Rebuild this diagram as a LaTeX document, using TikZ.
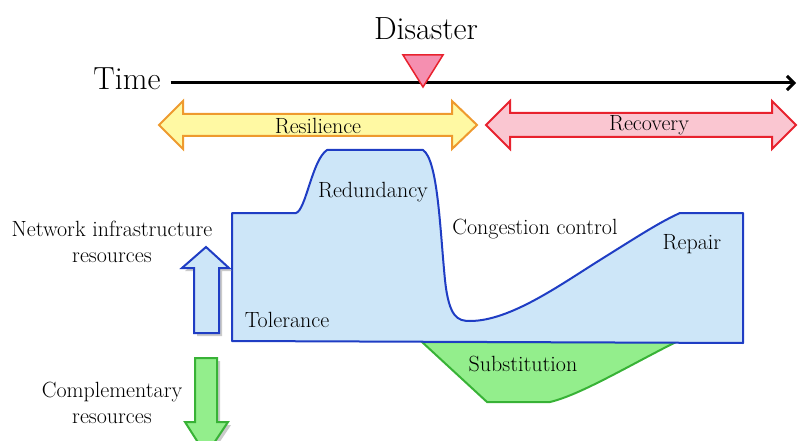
\documentclass[tikz,border=0pt]{standalone}
\usetikzlibrary{arrows.meta}
\definecolor{resfill}{HTML}{FFF9A3}
\definecolor{resline}{HTML}{EE9A2E}
\definecolor{recfill}{HTML}{FAC6D1}
\definecolor{recline}{HTML}{E8222E}
\definecolor{trifill}{HTML}{F58FB0}
\definecolor{netfill}{HTML}{CDE6F8}
\definecolor{netline}{HTML}{1F3DC4}
\definecolor{subfill}{HTML}{93EE8C}
\definecolor{subline}{HTML}{38B236}

\begin{document}
\begin{tikzpicture}[x=1pt,y=-1pt,line width=2pt]
\tikzstyle{every node}=[font=\fontsize{22}{26}\selectfont,inner sep=0pt]
\tikzstyle{bignode}=[font=\fontsize{32}{36}\selectfont]
\tikzstyle{shadow}=[fill=black!35,draw=none,opacity=0.6]
\useasboundingbox (0,0) rectangle (798,441);
\clip (0,0) rectangle (798,441);
% time axis and disaster
\node[bignode] (time) at (127,79) {Time};
\node[bignode] (disaster) at (426,29) {Disaster};
\coordinate (tend) at (796,83);
\draw[line width=3pt,-{Straight Barb[length=7pt,width=14pt]}] (time.east) ++(9,4) -- (tend);
\draw[draw=recline,fill=trifill,line width=1.5pt] (403,55) -- (443,55) -- (423,87) -- cycle;
% resilience / recovery
\draw[draw=resline,fill=resfill] (159,125) -- (183,101) -- (183,114) -- (452,114) -- (452,101) -- (477,125) -- (452,149) -- (452,136) -- (183,136) -- (183,149) -- cycle;
\draw[draw=recline,fill=recfill] (486,125) -- (510,101) -- (510,113) -- (772,113) -- (772,101) -- (796,125) -- (772,149) -- (772,137) -- (510,137) -- (510,149) -- cycle;
\node (resilience) at (318,126) {Resilience};
\node (recovery) at (649,125) {Recovery};
% substitution
\draw[draw=subline,fill=subfill] (422,342) -- (676,342) .. controls (630,365) and (580,395) .. (550,402) -- (487,402) -- cycle;
% network resources
\draw[draw=netline,fill=netfill,line join=round] (232,341) -- (232,213) -- (296,213) .. controls (306,210) and (312,160) .. (327,150) -- (423,150) .. controls (438,160) and (440,230) .. (445,280) .. controls (449,318) and (458,321) .. (470,321) .. controls (510,321) and (560,285) .. (600,260) .. controls (640,235) and (660,222) .. (680,213) -- (743,213) -- (743,343) -- cycle;
\node (redundancy) at (373,192) {Redundancy};
\node (congestion) at (535,229) {Congestion control};
\node (repair) at (692,244) {Repair};
\node (tolerance) at (287,320) {Tolerance};
\node (substitution) at (523,364) {Substitution};
% side arrows
\fill[shadow] (197,336) -- (197,271) -- (185,271) -- (209,250) -- (232,271) -- (222,271) -- (222,336) -- cycle;
\draw[draw=netline,fill=netfill] (194,333) -- (194,268) -- (182,268) -- (206,247) -- (229,268) -- (219,268) -- (219,333) -- cycle;
\fill[shadow] (198,361) -- (220,361) -- (220,425) -- (231,425) -- (209,458) -- (188,425) -- (198,425) -- cycle;
\draw[draw=subline,fill=subfill] (195,358) -- (217,358) -- (217,422) -- (228,422) -- (206,455) -- (185,422) -- (195,422) -- cycle;
\node[align=center] (netres) at (112,242) {Network infrastructure\\resources};
\node[align=center] (compres) at (112,403) {Complementary\\resources};
\end{tikzpicture}
\end{document}
